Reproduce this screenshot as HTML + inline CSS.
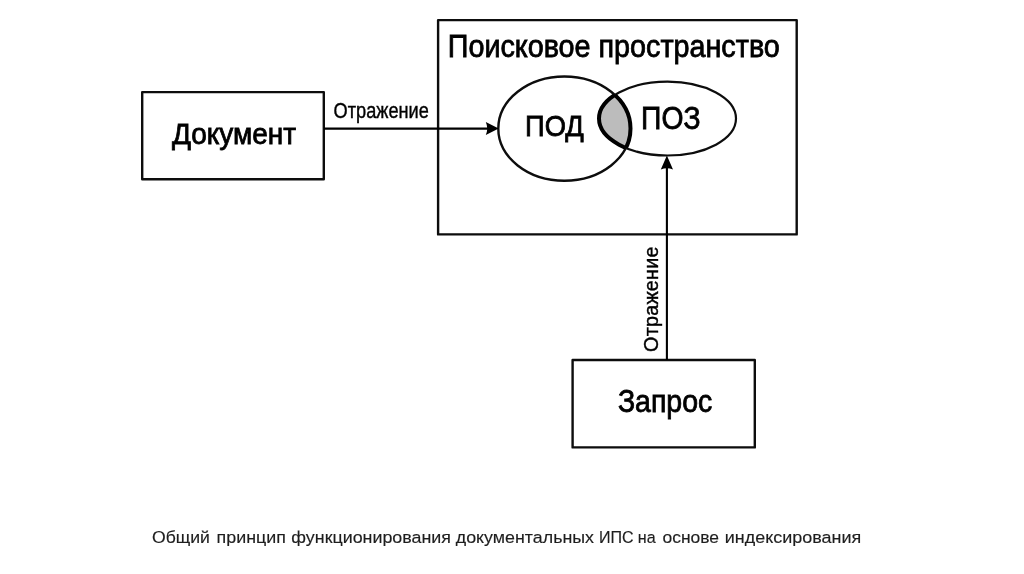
<!DOCTYPE html>
<html><head><meta charset="utf-8">
<style>
html,body{margin:0;padding:0;background:#fff;}
body{width:1024px;height:574px;overflow:hidden;position:relative;}
svg{position:absolute;left:0;top:0;will-change:transform;}
text{font-family:"Liberation Sans",sans-serif;}
.tx text{fill:#000;stroke:#000;stroke-width:0.8px;}
.tx text.sm{stroke-width:0.4px;}
.cap text{fill:#1e1e1e;stroke:#1e1e1e;stroke-width:0.15px;}
</style></head>
<body>
<svg width="1024" height="574" viewBox="0 0 1024 574">
<defs>
<clipPath id="cPOD"><ellipse cx="564.4" cy="128.6" rx="66.1" ry="52.1"/></clipPath>
<clipPath id="cPOZ"><ellipse cx="667.5" cy="118.6" rx="68.5" ry="36.9"/></clipPath>
</defs>
<g fill="none" stroke="#0d0d0d" stroke-width="2.4" stroke-linejoin="round">
<!-- Document box -->
<rect x="142.2" y="92.1" width="181.6" height="87.1"/>
<!-- Search space box -->
<rect x="438.1" y="20.1" width="358.6" height="214.3"/>
<!-- Zapros box -->
<rect x="572.6" y="360" width="182.2" height="87.4"/>
<!-- ellipses -->
<ellipse cx="564.4" cy="128.6" rx="66.1" ry="52.1" stroke-width="2.4"/>
<ellipse cx="667.5" cy="118.6" rx="68.5" ry="36.9" stroke-width="2.2"/>
</g>
<!-- lens fill -->
<ellipse cx="667.5" cy="118.6" rx="68.5" ry="36.9" fill="#bcbcbc" clip-path="url(#cPOD)"/>
<g fill="none" stroke="#000" stroke-width="4">
<ellipse cx="564.4" cy="128.6" rx="66.1" ry="52.1" clip-path="url(#cPOZ)"/>
<ellipse cx="667.5" cy="118.6" rx="68.5" ry="36.9" clip-path="url(#cPOD)"/>
</g>
<!-- arrows -->
<line x1="324" y1="128.6" x2="489" y2="128.6" stroke="#000" stroke-width="2.3"/>
<path d="M498.7 128.6 L485.8 122.1 Q488.6 128.6 485.8 135.1 Z" fill="#000"/>
<line x1="666.9" y1="360" x2="666.9" y2="167" stroke="#000" stroke-width="2.1"/>
<path d="M666.9 155.4 L660.8 169.4 Q666.9 166.9 673 169.4 Z" fill="#000"/>
<!-- texts -->
<g class="tx">
<text id="t_title" x="447.80" y="56.6" font-size="31" textLength="332.00" lengthAdjust="spacingAndGlyphs">Поисковое пространство</text>
<text id="t_doc" x="171.90" y="143.5" font-size="29.5" textLength="124.30" lengthAdjust="spacingAndGlyphs">Документ</text>
<text class="sm" id="t_otrh" x="333.60" y="118" font-size="21.3" textLength="95.20" lengthAdjust="spacingAndGlyphs">Отражение</text>
<text id="t_pod" x="525.04" y="136.3" font-size="29.7" textLength="58.86" lengthAdjust="spacingAndGlyphs">ПОД</text>
<text id="t_poz" x="641.12" y="128.5" font-size="30.6" textLength="59.36" lengthAdjust="spacingAndGlyphs">ПОЗ</text>
<text id="t_zap" x="617.91" y="411.5" font-size="30.5" textLength="94.38" lengthAdjust="spacingAndGlyphs">Запрос</text>
<text class="sm" id="t_otrv" transform="translate(657.7 351) rotate(-90)" x="-0.90" y="0" font-size="19.8" textLength="105.40" lengthAdjust="spacing">Отражение</text>
</g>
<g class="cap">
<text id="t_c0" x="151.97" y="542.6" font-size="16.3" textLength="57.98" lengthAdjust="spacingAndGlyphs">Общий</text>
<text id="t_c1" x="216.58" y="542.6" font-size="16.3" textLength="69.27" lengthAdjust="spacingAndGlyphs">принцип</text>
<text id="t_c2" x="291.39" y="542.6" font-size="16.3" textLength="159.62" lengthAdjust="spacingAndGlyphs">функционирования</text>
<text id="t_c3" x="455.80" y="542.6" font-size="16.3" textLength="138.21" lengthAdjust="spacingAndGlyphs">документальных</text>
<text id="t_c4" x="598.94" y="542.6" font-size="16.3" textLength="34.70" lengthAdjust="spacingAndGlyphs">ИПС</text>
<text id="t_c5" x="637.82" y="542.6" font-size="16.3" textLength="17.87" lengthAdjust="spacingAndGlyphs">на</text>
<text id="t_c6" x="662.46" y="542.6" font-size="16.3" textLength="56.59" lengthAdjust="spacingAndGlyphs">основе</text>
<text id="t_c7" x="724.78" y="542.6" font-size="16.3" textLength="136.44" lengthAdjust="spacingAndGlyphs">индексирования</text>
</g>
</svg>
</body></html>
